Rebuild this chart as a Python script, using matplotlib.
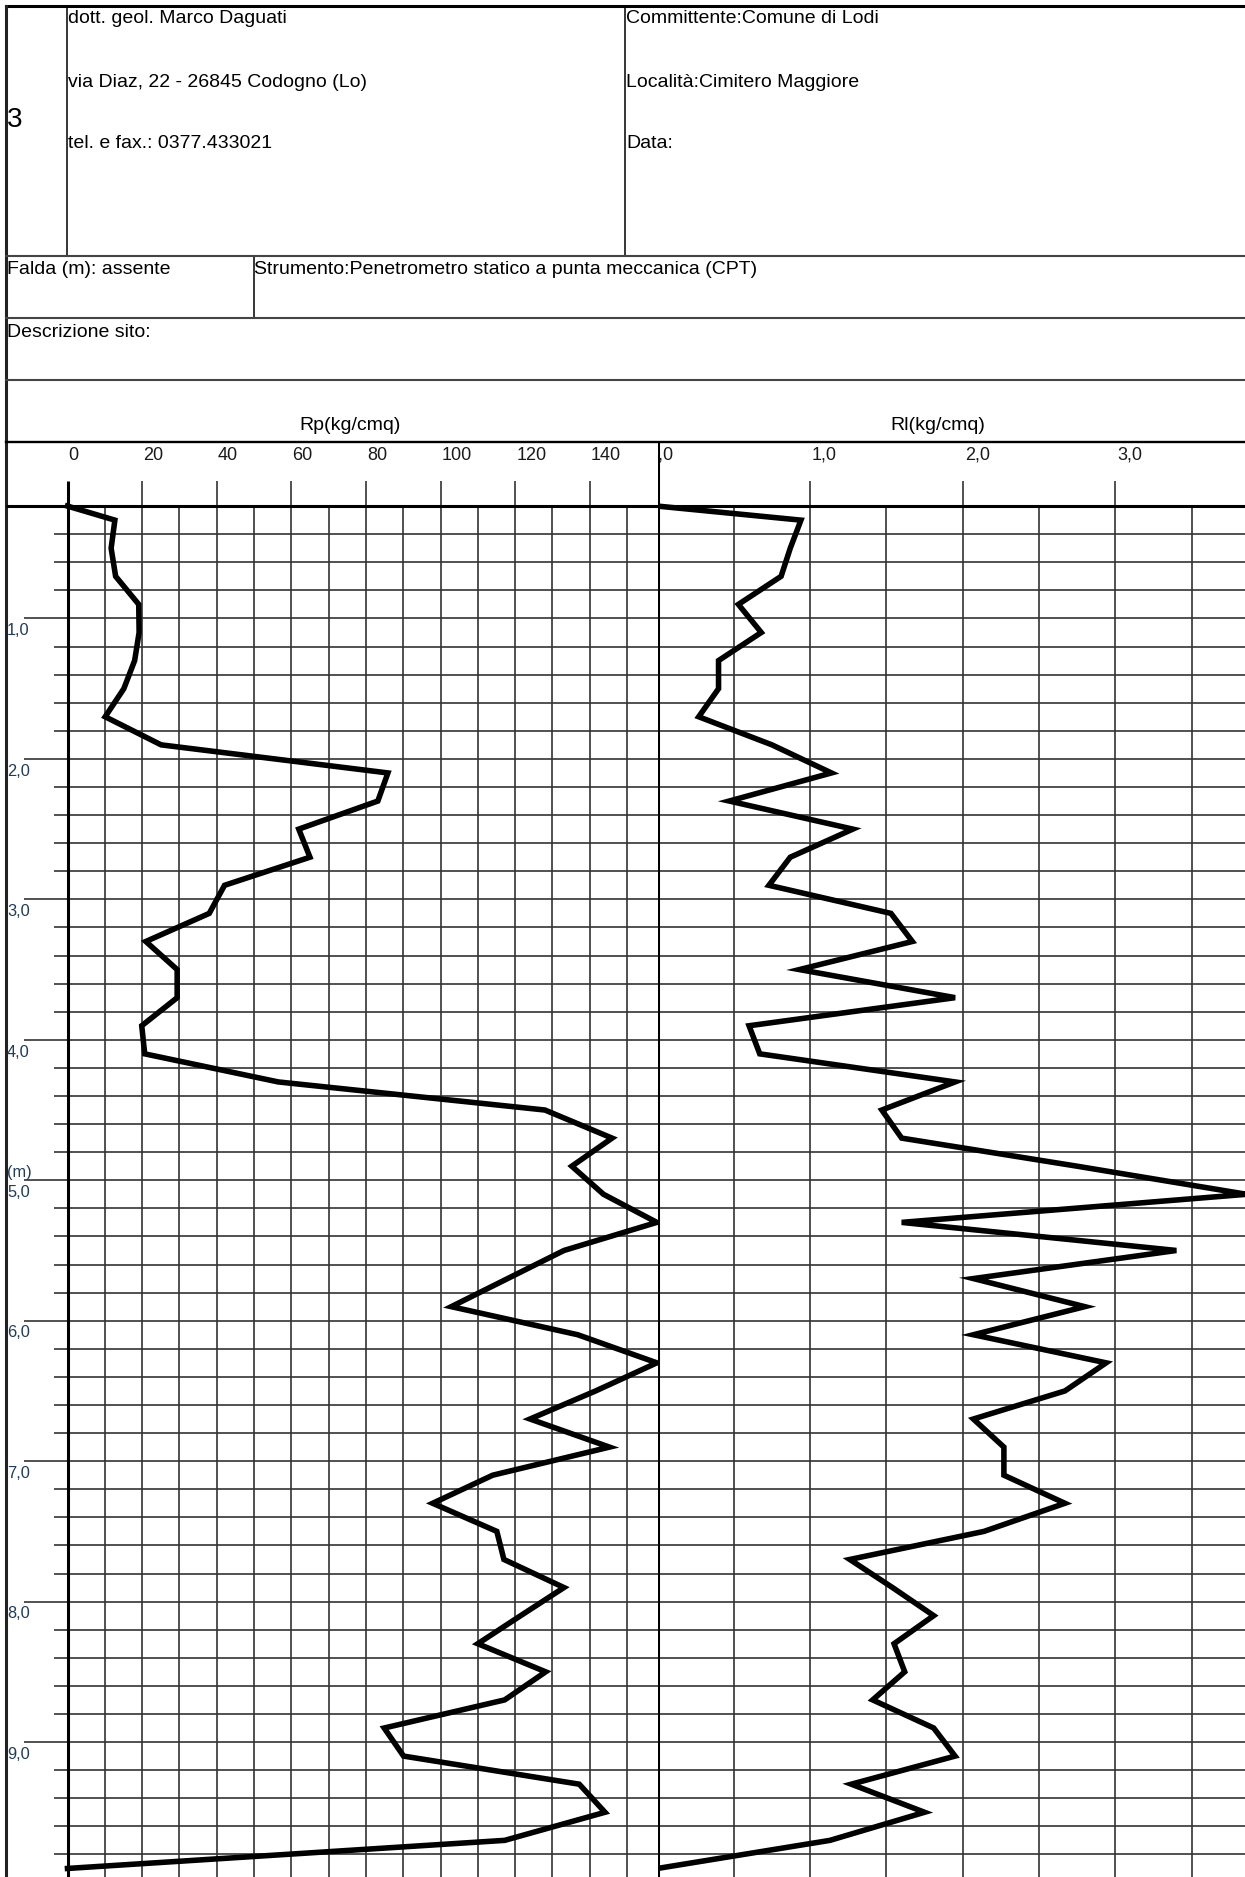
import matplotlib
matplotlib.use("Agg")
import matplotlib.pyplot as plt
import numpy as np

plt.rcParams['font.family'] = ['Liberation Sans', 'DejaVu Sans']

# ---- penetration test data (CPT, mechanical tip) ----
depth_m = [0.2, 0.3, 0.5, 0.7, 0.9, 1.1, 1.3, 1.5, 1.7, 1.9,
           2.1, 2.3, 2.5, 2.7, 2.9, 3.1, 3.3, 3.5, 3.7, 3.9,
           4.1, 4.3, 4.5, 4.7, 4.9, 5.1, 5.3, 5.5, 5.7, 5.9,
           6.1, 6.3, 6.5, 6.7, 6.9, 7.1, 7.3, 7.5, 7.7, 7.9,
           8.1, 8.3, 8.5, 8.7, 8.9, 9.1, 9.3, 9.5, 9.7, 9.9]

rp_kgcmq = [0, 12.7, 11.7, 12.9, 19.1, 19.2, 18.0, 15.1, 10.1, 25.1,
            85.9, 83.2, 62.0, 65.0, 42.1, 38.0, 21.0, 29.4, 29.4, 19.9,
            20.7, 56.5, 128.0, 146.0, 135.2, 143.7, 158.0, 133.1, 118.0, 102.9,
            136.8, 158.0, 141.6, 124.0, 145.3, 114.0, 97.9, 115.1, 117.0, 133.1,
            121.5, 110.0, 128.2, 117.2, 84.9, 90.1, 137.2, 144.1, 117.2, 0]

rl_kgcmq = [0, 0.94, 0.87, 0.81, 0.53, 0.68, 0.40, 0.40, 0.27, 0.75,
            1.14, 0.47, 1.28, 0.87, 0.73, 1.53, 1.67, 0.93, 1.95, 0.60,
            0.67, 1.95, 1.47, 1.60, 2.75, 3.86, 1.60, 3.40, 2.07, 2.80,
            2.07, 2.94, 2.67, 2.07, 2.27, 2.27, 2.67, 2.14, 1.26, 1.54,
            1.81, 1.55, 1.62, 1.41, 1.81, 1.95, 1.27, 1.75, 1.13, 0]

rp_ticks = [0, 20, 40, 60, 80, 100, 120, 140]
rl_ticks = [0.0, 1.0, 2.0, 3.0]
rl_tick_labels = ["0,0", "1,0", "2,0", "3,0"]
depth_labels = [1, 2, 3, 4, 5, 6, 7, 8, 9]

header_left = ["dott. geol. Marco Daguati",
               "via Diaz, 22 - 26845 Codogno (Lo)",
               "tel. e fax.: 0377.433021"]
header_right = ["Committente:Comune di Lodi",
                "Località:Cimitero Maggiore",
                "Data:"]

# ---- figure geometry (pixels) ----
W, H, DPI = 1245, 1877, 100
X_BORDER = 6.0
X_RL0 = 657.5
Y_PLOT_TOP = 442.0

# depth scale: 0 m at 478 px, 140.45 px per metre
D_TOP = (Y_PLOT_TOP - 478.0) / 140.45
D_BOT = (H - 478.0) / 140.45
# Rp scale: 0 at 67.5 px, 3.73 px per unit
RP_MIN = (X_BORDER - 67.5) / 3.73
RP_MAX = (X_RL0 - 67.5) / 3.73
# Rl scale: 0 at 657.5 px, 152.6 px per unit
RL_MAX = (W - X_RL0) / 152.6

GRID = '#333333'
LW_GRID = 1.2
LW_THICK = 2.2
LW_DATA = 4.0
FS = 14
FS_TICK = 13
FS_DEPTH = 11.8
DEPTH_COLOR = '#1f3c5c'

fig = plt.figure(figsize=(W / DPI, H / DPI), dpi=DPI, facecolor='white')

# form frame drawn in pixel units
frame = fig.add_axes([0, 0, 1, 1])
frame.set_xlim(0, W)
frame.set_ylim(H, 0)
frame.axis('off')

frame.plot([X_BORDER, W], [5.7, 5.7], color='black', lw=2.2)
frame.plot([X_BORDER, X_BORDER], [5.7, H], color='#222222', lw=2.2)
frame.plot([67, 67], [5.7, 256], color='black', lw=1.1)
frame.plot([625, 625], [5.7, 256], color='black', lw=1.1)
frame.plot([253.6, 253.6], [256, 318], color='black', lw=1.1)
for yy in (256, 318, 380):
    frame.plot([X_BORDER, W], [yy, yy], color='#444444', lw=1.5)
frame.plot([X_BORDER, W], [Y_PLOT_TOP, Y_PLOT_TOP], color='black', lw=1.7)

frame.text(7, 126.7, "3", fontsize=20, va='baseline', ha='left')
for txt, yb in zip(header_left, (23, 87.3, 148.3)):
    frame.text(68, yb, txt, fontsize=FS, va='baseline', ha='left')
for txt, yb in zip(header_right, (23, 87.3, 148.3)):
    frame.text(626.5, yb, txt, fontsize=FS, va='baseline', ha='left')
frame.text(7, 274.3, "Falda (m): assente", fontsize=FS, va='baseline', ha='left')
frame.text(254.5, 274.3, "Strumento:Penetrometro statico a punta meccanica (CPT)",
           fontsize=FS, va='baseline', ha='left')
frame.text(7, 336.7, "Descrizione sito:", fontsize=FS, va='baseline', ha='left')
frame.text(349.6, 430, "Rp(kg/cmq)", fontsize=FS, va='baseline', ha='center')
frame.text(937.4, 430, "Rl(kg/cmq)", fontsize=FS, va='baseline', ha='center')


def panel(left_px, right_px):
    ax = fig.add_axes([left_px / W, 0, (right_px - left_px) / W, (H - Y_PLOT_TOP) / H])
    ax.set_facecolor('none')
    ax.axis('off')
    ax.set_ylim(D_BOT, D_TOP)
    return ax


ax_rp = panel(X_BORDER, X_RL0)
ax_rp.set_xlim(RP_MIN, RP_MAX)
ax_rl = panel(X_RL0, W)
ax_rl.set_xlim(0, RL_MAX)

grid_depths = np.round(np.arange(0.4, 9.81, 0.2), 1)

# --- Rp panel grid ---
for d in grid_depths:
    start = -11.66 if abs(d - round(d)) < 1e-6 else -3.5
    ax_rp.hlines(d, start, RP_MAX, color=GRID, lw=LW_GRID, zorder=1)
ax_rp.hlines(0.2, RP_MIN, RP_MAX, color='black', lw=LW_THICK, zorder=2)
for v in range(10, 160, 10):
    top = 0.02 if v % 20 == 0 else 0.2
    ax_rp.vlines(v, top, D_BOT, color=GRID, lw=LW_GRID, zorder=1)
ax_rp.vlines(0, 0.02, D_BOT, color='black', lw=LW_THICK, zorder=2)

for v in rp_ticks:
    ax_rp.text(v + 0.3, (460 - 478.0) / 140.45, str(v), fontsize=FS_TICK,
               color='#1a1a1a', va='baseline', ha='left')

for d in depth_labels:
    ax_rp.text(-16.2, d + 0.119, f"{d},0", fontsize=FS_DEPTH, color=DEPTH_COLOR,
               va='baseline', ha='left')
ax_rp.text(-16.2, 4.975, "(m)", fontsize=FS_DEPTH, color=DEPTH_COLOR,
           va='baseline', ha='left')

ax_rp.plot(rp_kgcmq, depth_m, color='black', lw=LW_DATA, solid_joinstyle='miter',
           clip_on=True, zorder=5)

# --- Rl panel grid ---
for d in grid_depths:
    ax_rl.hlines(d, 0, RL_MAX, color=GRID, lw=LW_GRID, zorder=1)
ax_rl.hlines(0.2, 0, RL_MAX, color='black', lw=LW_THICK, zorder=2)
for v in (0.5, 1.0, 1.5, 2.0, 2.5, 3.0, 3.5):
    top = 0.02 if float(v).is_integer() else 0.2
    ax_rl.vlines(v, top, D_BOT, color=GRID, lw=LW_GRID, zorder=1)
ax_rl.vlines(0, D_TOP, D_BOT, color='black', lw=LW_THICK, zorder=2)

for v, lab in zip(rl_ticks, rl_tick_labels):
    xpos = -0.062 if v == 0 else v + 0.013
    ax_rl.text(xpos, (460 - 478.0) / 140.45, lab, fontsize=FS_TICK,
               color='#1a1a1a', va='baseline', ha='left', clip_on=True)

ax_rl.plot(rl_kgcmq, depth_m, color='black', lw=LW_DATA, solid_joinstyle='miter',
           clip_on=True, zorder=5)

fig.savefig("out.png", dpi=DPI, facecolor='white')
